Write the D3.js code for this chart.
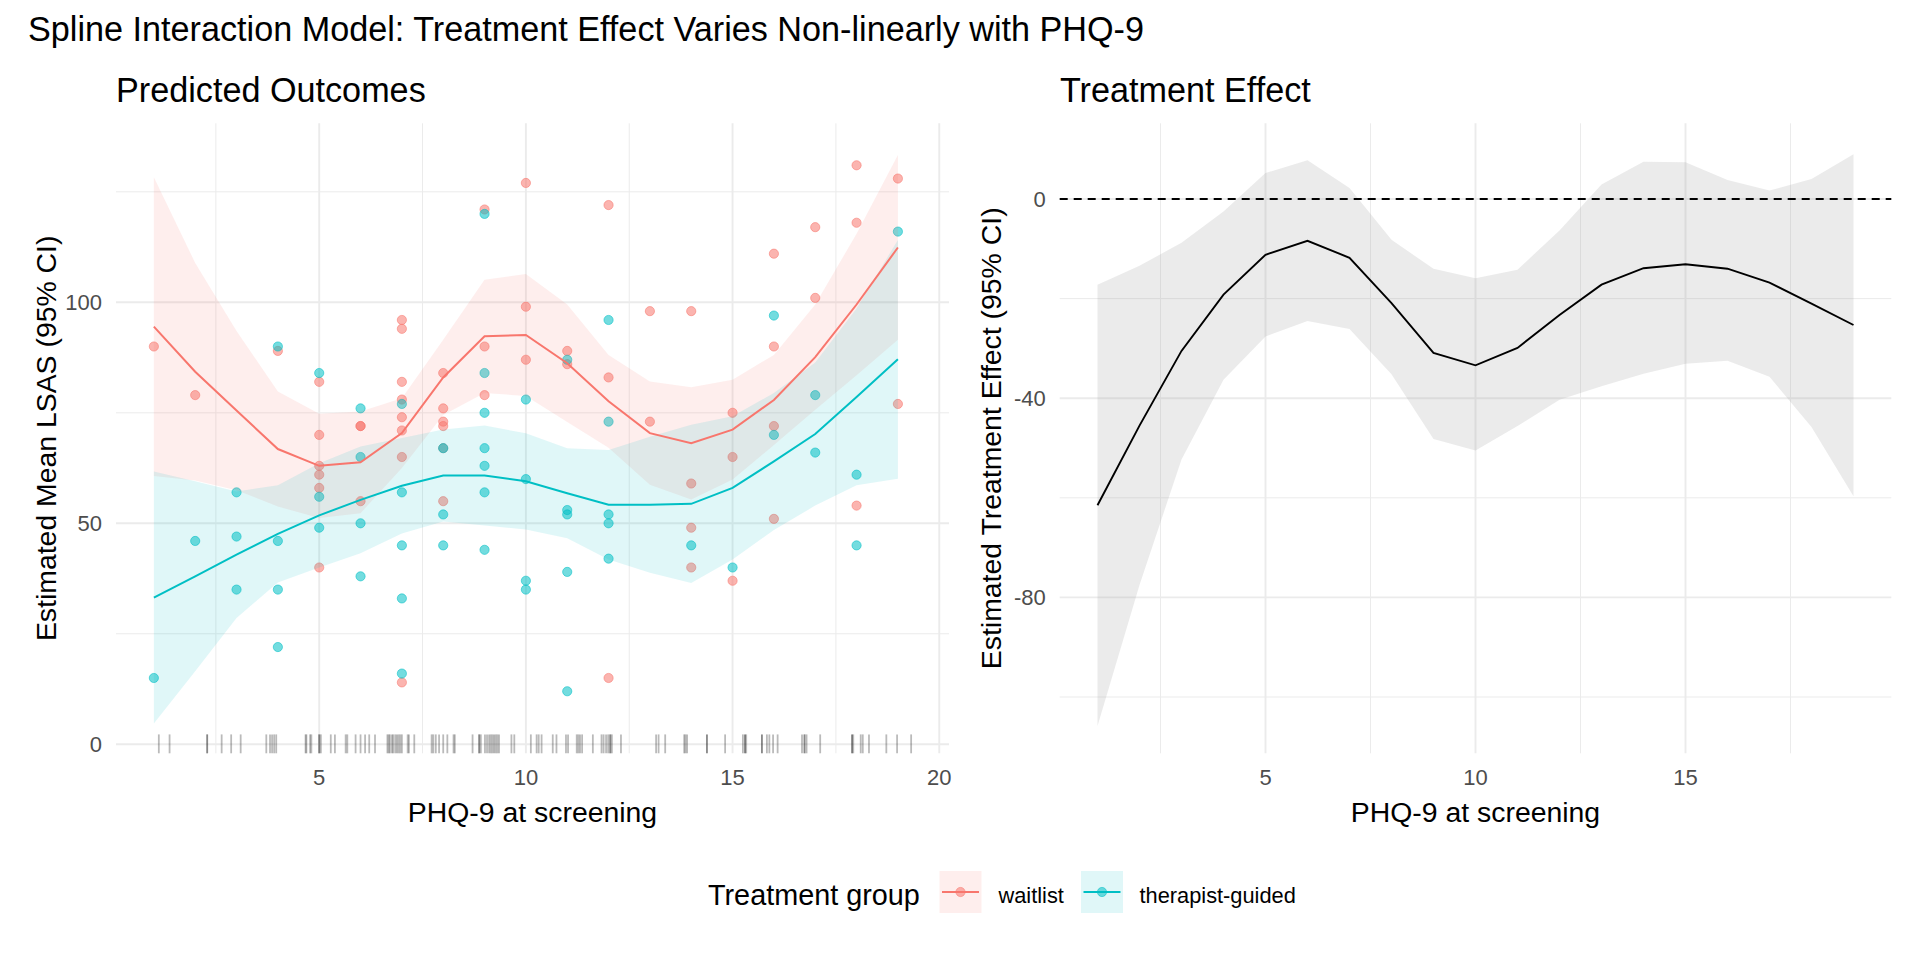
<!DOCTYPE html>
<html><head><meta charset="utf-8">
<script src="https://cdn.jsdelivr.net/npm/d3@7"></script>
<style>
body{margin:0;background:#fff;}
text{font-family:"Liberation Sans",Arial,Helvetica,sans-serif;}
</style>
</head><body>
<svg id="chart" width="1920" height="960"></svg>
<script>
// ---------------- data ----------------
const phq = [1,2,3,4,5,6,7,8,9,10,11,12,13,14,15,16,17,18,19];

const waitFit = [94.5,84.3,75.5,66.8,63.0,63.8,70.4,83.0,92.3,92.6,86.2,77.6,70.4,68.1,71.2,77.9,87.6,99.5,112.4];
const waitLo  = [60.7,59.7,57.5,53.8,51.2,52.3,62.5,74.5,79.5,78.8,72.9,67.1,58.7,55.4,59.9,67.7,75.7,83.5,91.5];
const waitHi  = [128.3,108.9,93.5,79.8,74.8,75.3,78.3,91.5,105.1,106.4,99.5,88.1,82.1,80.8,82.5,88.1,99.5,115.5,133.3];

const guidFit = [33.2,38.0,42.9,47.6,51.8,55.3,58.5,60.8,60.8,59.5,56.8,54.2,54.2,54.4,58.0,64.0,70.2,78.6,87.1];
const guidLo  = [4.7,16.5,28.6,36.6,40.0,43.2,47.7,50.4,49.5,48.6,46.6,41.8,38.8,36.5,41.8,48.5,54.0,58.6,60.1];
const guidHi  = [61.7,59.5,57.2,58.6,63.6,67.4,69.3,71.2,72.1,70.4,67.0,66.6,69.6,72.3,74.2,79.5,86.4,98.6,114.1];

const effFit = [-61.5,-45.5,-30.5,-19.2,-11.2,-8.4,-11.8,-20.9,-30.9,-33.4,-29.9,-23.3,-17.2,-13.9,-13.1,-14.0,-16.8,-21.0,-25.3];
const effLo  = [-105.8,-77.5,-52.3,-36.3,-27.6,-24.5,-26.1,-35.2,-48.2,-50.5,-45.6,-40.3,-37.6,-35.1,-33.1,-32.5,-35.7,-45.8,-59.7];
const effHi  = [-17.2,-13.4,-8.8,-2.5,5.2,7.8,2.2,-8.2,-14.0,-15.9,-14.2,-6.3,2.9,7.5,7.4,3.8,1.7,4.0,9.0];

const waitlistPoints = [
 [1,90],[2,79],[4,89],
 [5,82],[5,70],[5,63],[5,61],[5,58],[5,40],
 [6,72],[6,72],[6,55],
 [7,96],[7,94],[7,82],[7,78],[7,74],[7,71],[7,65],[7,14],
 [8,84],[8,76],[8,73],[8,72],[8,67],[8,55],
 [9,121],[9,90],[9,79],
 [10,127],[10,99],[10,87],
 [11,89],[11,86],
 [12,122],[12,83],[12,15],
 [13,98],[13,73],
 [14,98],[14,59],[14,49],[14,40],
 [15,75],[15,65],[15,37],
 [16,111],[16,90],[16,72],[16,51],
 [17,117],[17,101],
 [18,131],[18,118],[18,54],
 [19,128],[19,77]
];
const guidedPoints = [
 [1,15],[2,46],
 [3,57],[3,47],[3,35],
 [4,90],[4,46],[4,35],[4,22],
 [5,84],[5,56],[5,49],
 [6,76],[6,65],[6,50],[6,38],
 [7,77],[7,57],[7,45],[7,33],[7,16],
 [8,67],[8,52],[8,45],
 [9,120],[9,84],[9,75],[9,67],[9,63],[9,57],[9,44],
 [10,78],[10,60],[10,37],[10,35],
 [11,87],[11,53],[11,52],[11,39],[11,12],
 [12,96],[12,73],[12,52],[12,50],[12,42],
 [14,45],[15,40],
 [16,97],[16,70],
 [17,79],[17,66],
 [18,61],[18,45],
 [19,116]
];
const rugX = [1.12,1.38,2.29,2.29,2.64,2.87,3.10,3.72,3.81,3.86,3.91,3.96,4.67,4.69,4.78,4.81,5.00,5.00,5.04,5.28,5.38,5.64,5.68,5.88,6.00,6.11,6.21,6.35,6.65,6.68,6.71,6.76,6.79,6.84,6.88,6.92,6.96,7.00,7.14,7.17,7.30,7.72,7.76,7.82,7.90,8.00,8.10,8.25,8.28,8.71,8.87,8.87,8.91,9.01,9.06,9.11,9.15,9.19,9.23,9.27,9.31,9.35,9.65,9.72,10.12,10.26,10.31,10.38,10.65,10.74,10.97,11.02,11.23,11.27,11.31,11.36,11.62,11.83,11.88,11.94,11.99,12.04,12.04,12.08,12.30,13.15,13.21,13.37,13.83,13.86,13.90,14.38,14.38,14.82,15.25,15.30,15.30,15.33,15.71,15.71,15.83,15.89,15.98,16.09,16.68,16.74,16.74,16.79,17.12,17.89,17.89,17.92,18.10,18.15,18.30,18.72,18.98,19.32];

const groups = ["waitlist","therapist-guided"];
const groupColors = ["#F8766D","#00BFC4"];

const leftXTicks = [5,10,15,20], leftXMinor = [2.5,7.5,12.5,17.5];
const leftYTicks = [0,50,100], leftYMinor = [25,75,125];
const rightXTicks = [5,10,15], rightXMinor = [2.5,7.5,12.5,17.5];
const rightYTicks = [-80,-40,0], rightYMinor = [-100,-60,-20];

// ---------------- drawing ----------------
const svg = d3.select('#chart');
svg.append('rect').attr('width',1920).attr('height',960).attr('fill','#fff');

const TOP = 123.3, BOT = 753.3;
const xL = d3.scaleLinear().domain([0.084, 20.236]).range([116, 949]);
const yL = d3.scaleLinear().domain([-2.04, 140.5]).range([BOT, TOP]);
const xR = d3.scaleLinear().domain([0.1, 19.9]).range([1059.7, 1891.3]);
const yR = d3.scaleLinear().domain([-111.3, 15.2]).range([BOT, TOP]);

const GRID = '#EBEBEB';
const TICK_FS = 22;
function grid(g, x, y, xmaj, xmin, ymaj, ymin){
  const [xa,xb] = x.range();
  g.selectAll(null).data(ymin).enter().append('line')
    .attr('x1',xa).attr('x2',xb).attr('y1',d=>y(d)).attr('y2',d=>y(d))
    .attr('stroke',GRID).attr('stroke-width',1.0);
  g.selectAll(null).data(xmin).enter().append('line')
    .attr('y1',TOP).attr('y2',BOT).attr('x1',d=>x(d)).attr('x2',d=>x(d))
    .attr('stroke',GRID).attr('stroke-width',1.0);
  g.selectAll(null).data(ymaj).enter().append('line')
    .attr('x1',xa).attr('x2',xb).attr('y1',d=>y(d)).attr('y2',d=>y(d))
    .attr('stroke',GRID).attr('stroke-width',1.9);
  g.selectAll(null).data(xmaj).enter().append('line')
    .attr('y1',TOP).attr('y2',BOT).attr('x1',d=>x(d)).attr('x2',d=>x(d))
    .attr('stroke',GRID).attr('stroke-width',1.9);
}
function tickLabels(g, x, y, xt, yt){
  const [xa] = x.range();
  g.selectAll(null).data(xt).enter().append('text')
    .attr('x',d=>x(d)).attr('y',785).attr('text-anchor','middle')
    .attr('font-size',TICK_FS).attr('fill','#4D4D4D').text(d=>d);
  g.selectAll(null).data(yt).enter().append('text')
    .attr('x',xa-14).attr('y',d=>y(d)).attr('dy','0.36em').attr('text-anchor','end')
    .attr('font-size',TICK_FS).attr('fill','#4D4D4D').text(d=>d);
}

// Titles
svg.append('text').attr('x',28).attr('y',41).attr('font-size',34.2).attr('fill','#000')
  .text('Spline Interaction Model: Treatment Effect Varies Non-linearly with PHQ-9');
svg.append('text').attr('x',116).attr('y',102).attr('font-size',34.2).attr('fill','#000')
  .text('Predicted Outcomes');
svg.append('text').attr('x',1060).attr('y',102).attr('font-size',34.2).attr('fill','#000')
  .text('Treatment Effect');

// ---- Left panel ----
const gL = svg.append('g');
grid(gL, xL, yL, leftXTicks, leftXMinor, leftYTicks, leftYMinor);
tickLabels(gL, xL, yL, leftXTicks, leftYTicks);

const ptSets = [waitlistPoints, guidedPoints];
ptSets.forEach((pts,gi)=>{
  gL.selectAll(null).data(pts).enter().append('circle')
    .attr('cx',d=>xL(d[0])).attr('cy',d=>yL(d[1])).attr('r',4.6)
    .attr('fill',groupColors[gi]).attr('fill-opacity',0.55)
    .attr('stroke',groupColors[gi]).attr('stroke-opacity',0.55).attr('stroke-width',1);
});

const fitSets = [[waitFit,waitLo,waitHi],[guidFit,guidLo,guidHi]];
fitSets.forEach((s,gi)=>{
  const area = d3.area().x((d,i)=>xL(phq[i])).y0((d,i)=>yL(s[1][i])).y1((d,i)=>yL(s[2][i]));
  gL.append('path').datum(phq).attr('d',area).attr('fill',groupColors[gi]).attr('fill-opacity',0.12);
});
fitSets.forEach((s,gi)=>{
  const line = d3.line().x((d,i)=>xL(phq[i])).y((d,i)=>yL(s[0][i]));
  gL.append('path').datum(phq).attr('d',line).attr('fill','none')
    .attr('stroke',groupColors[gi]).attr('stroke-width',2);
});
const rugLen = 0.03*(BOT-TOP);
gL.selectAll(null).data(rugX).enter().append('line')
  .attr('x1',d=>xL(d)).attr('x2',d=>xL(d)).attr('y1',BOT).attr('y2',BOT-rugLen)
  .attr('stroke','#000').attr('stroke-opacity',0.27).attr('stroke-width',1.8);

// axis titles left
svg.append('text').attr('x',(116+949)/2).attr('y',822).attr('text-anchor','middle')
  .attr('font-size',28.4).attr('fill','#000').text('PHQ-9 at screening');
svg.append('text').attr('transform',`translate(56,${(TOP+BOT)/2}) rotate(-90)`).attr('text-anchor','middle')
  .attr('font-size',28.4).attr('fill','#000').text('Estimated Mean LSAS (95% CI)');

// ---- Right panel ----
const gR = svg.append('g');
grid(gR, xR, yR, rightXTicks, rightXMinor, rightYTicks, rightYMinor);
tickLabels(gR, xR, yR, rightXTicks, rightYTicks);
const areaR = d3.area().x((d,i)=>xR(phq[i])).y0((d,i)=>yR(effLo[i])).y1((d,i)=>yR(effHi[i]));
gR.append('path').datum(phq).attr('d',areaR).attr('fill','#999999').attr('fill-opacity',0.2);
gR.append('line').attr('x1',xR.range()[0]).attr('x2',xR.range()[1]).attr('y1',yR(0)).attr('y2',yR(0))
  .attr('stroke','#000').attr('stroke-width',1.8).attr('stroke-dasharray','8,6');
const lineR = d3.line().x((d,i)=>xR(phq[i])).y((d,i)=>yR(effFit[i]));
gR.append('path').datum(phq).attr('d',lineR).attr('fill','none').attr('stroke','#000').attr('stroke-width',1.9);

svg.append('text').attr('x',(1059.7+1891.3)/2).attr('y',822).attr('text-anchor','middle')
  .attr('font-size',28.4).attr('fill','#000').text('PHQ-9 at screening');
svg.append('text').attr('transform',`translate(1001,${(TOP+BOT)/2}) rotate(-90)`).attr('text-anchor','middle')
  .attr('font-size',28.4).attr('fill','#000').text('Estimated Treatment Effect (95% CI)');

// ---- Legend ----
const lg = svg.append('g');
lg.append('text').attr('x',708).attr('y',905).attr('font-size',28.8).attr('fill','#000').text('Treatment group');
const keyX = [939.5, 1081], labX = [998.5, 1139.5];
groups.forEach((name,gi)=>{
  const kx = keyX[gi], ky = 871, ks = 42;
  lg.append('rect').attr('x',kx).attr('y',ky).attr('width',ks).attr('height',ks)
    .attr('fill',groupColors[gi]).attr('fill-opacity',0.12);
  lg.append('line').attr('x1',kx+2.5).attr('x2',kx+ks-2.5).attr('y1',ky+ks/2).attr('y2',ky+ks/2)
    .attr('stroke',groupColors[gi]).attr('stroke-width',2);
  lg.append('circle').attr('cx',kx+ks/2).attr('cy',ky+ks/2).attr('r',4.6)
    .attr('fill',groupColors[gi]).attr('fill-opacity',0.55)
    .attr('stroke',groupColors[gi]).attr('stroke-opacity',0.55).attr('stroke-width',1);
  lg.append('text').attr('x',labX[gi]).attr('y',903).attr('font-size',21.8).attr('fill','#000').text(name);
});
</script>
</body></html>
